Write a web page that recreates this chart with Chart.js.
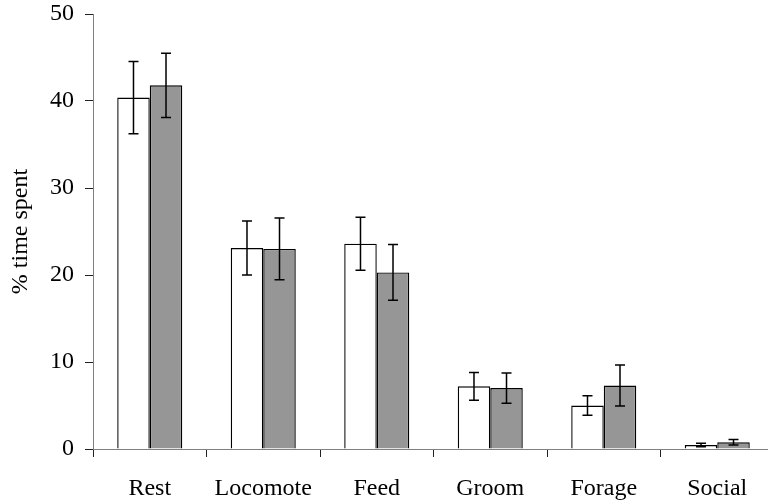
<!DOCTYPE html>
<html>
<head>
<meta charset="utf-8">
<script src="https://cdn.jsdelivr.net/npm/chart.js@4"></script>
<style>
  html, body { margin: 0; padding: 0; overflow: hidden; background: #fff; }
  #wrap { width: 774px; height: 504px; }
</style>
</head>
<body>
<div id="wrap"><canvas id="c" width="774" height="504"></canvas></div>
<script>
const categories = ['Rest', 'Locomote', 'Feed', 'Groom', 'Forage', 'Social'];
const seriesA = [40.4, 23.1, 23.6, 7.2, 5.0, 0.45];
const errorsA = [4.15, 3.1, 3.05, 1.6, 1.12, 0.2];
const seriesB = [41.8, 23.0, 20.3, 7.0, 7.3, 0.77];
const errorsB = [3.7, 3.55, 3.2, 1.75, 2.35, 0.32];
const yTicks = [0, 10, 20, 30, 40, 50];
const yTitle = '% time spent';

const FONT = "'Liberation Serif', 'Times New Roman', serif";

const errorBars = {
  id: 'errorBars',
  afterDatasetsDraw(chart) {
    const ctx = chart.ctx;
    const y = chart.scales.y;
    const errs = [errorsA, errorsB];
    ctx.save();
    ctx.strokeStyle = '#000';
    ctx.lineWidth = 1.5;
    chart.data.datasets.forEach((ds, i) => {
      const meta = chart.getDatasetMeta(i);
      meta.data.forEach((bar, j) => {
        const v = ds.data[j], e = errs[i][j];
        const x = bar.x;
        const t = y.getPixelForValue(v + e);
        const b = y.getPixelForValue(v - e);
        ctx.beginPath();
        ctx.moveTo(x, t); ctx.lineTo(x, b);
        ctx.moveTo(x - 5, t); ctx.lineTo(x + 5, t);
        ctx.moveTo(x - 5, b); ctx.lineTo(x + 5, b);
        ctx.stroke();
      });
    });
    ctx.restore();
  }
};

new Chart(document.getElementById('c'), {
  type: 'bar',
  data: {
    labels: categories,
    datasets: [
      { data: seriesA, backgroundColor: '#ffffff', borderColor: '#000', borderWidth: 1.4,
        barPercentage: 1, categoryPercentage: 0.573 },
      { data: seriesB, backgroundColor: '#969696', borderColor: '#000', borderWidth: 1.4,
        barPercentage: 1, categoryPercentage: 0.573 }
    ]
  },
  options: {
    responsive: false,
    animation: false,
    layout: { padding: 0 },
    plugins: { legend: { display: false }, tooltip: { enabled: false } },
    scales: {
      x: {
        grid: { offset: true, drawOnChartArea: false, drawTicks: true, tickLength: 8, color: '#222' },
        border: { color: '#808080', width: 1 },
        ticks: { color: '#000', font: { family: FONT, size: 24 }, padding: 17, maxRotation: 0 },
        afterFit(scale) { scale.height = 55; }
      },
      y: {
        min: 0, max: 50,
        afterBuildTicks(scale) { scale.ticks = yTicks.map(v => ({ value: v })); },
        grid: { drawOnChartArea: false, drawTicks: true, tickLength: 8, color: '#222' },
        border: { color: '#808080', width: 1 },
        ticks: { color: '#000', font: { family: FONT, size: 24 }, padding: 11 },
        title: { display: true, text: yTitle, color: '#000', font: { family: FONT, size: 24 }, padding: { top: 6, bottom: 0 } },
        afterFit(scale) { scale.width = 93; scale.paddingTop = 14; }
      }
    }
  },
  plugins: [errorBars]
});
</script>
</body>
</html>
